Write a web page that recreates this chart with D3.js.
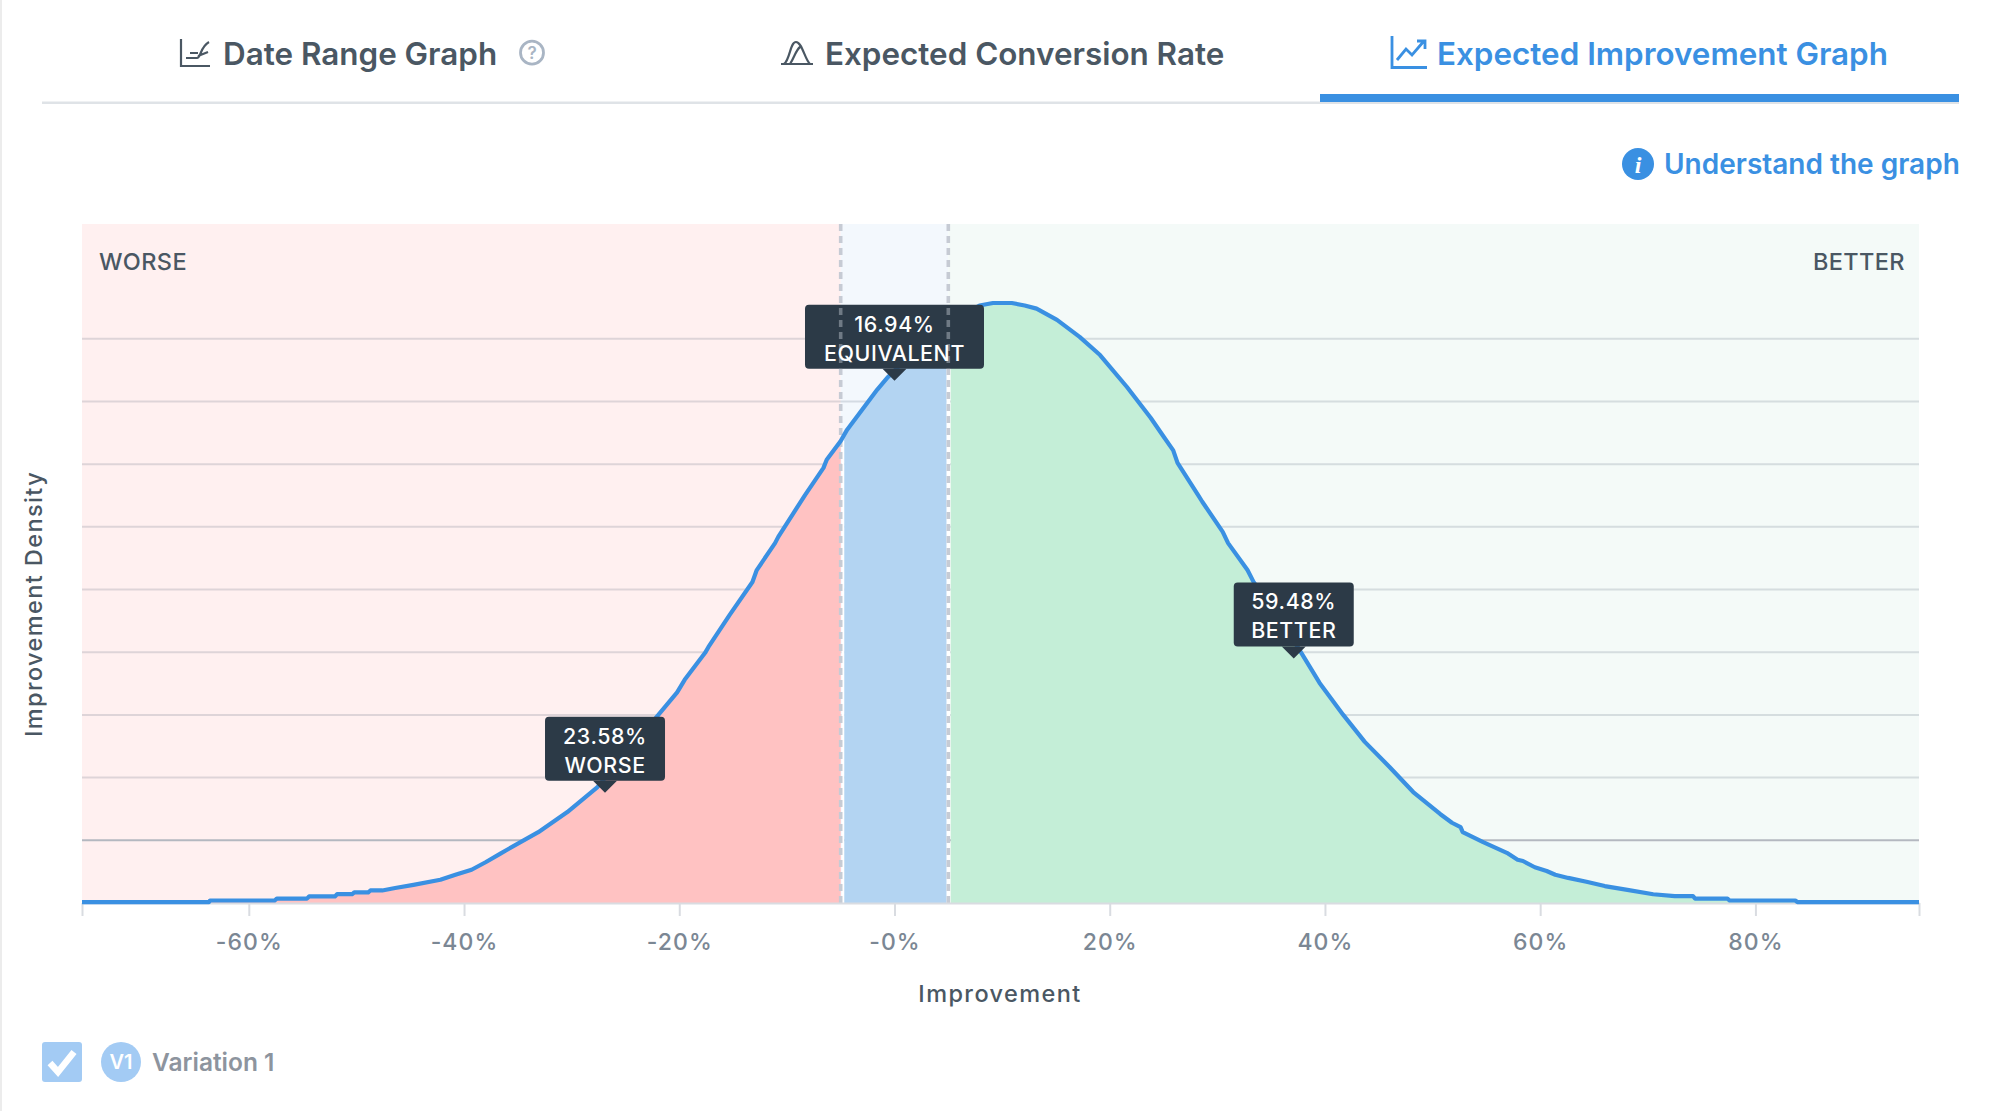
<!DOCTYPE html>
<html>
<head>
<meta charset="utf-8">
<title>Expected Improvement Graph</title>
<script src="https://cdn.jsdelivr.net/npm/d3@7/dist/d3.min.js"></script>
<style>
  html, body { margin: 0; padding: 0; background: #fff; }
  svg { display: block; font-family: Inter, "Noto Sans", sans-serif; }
  .tab { font-size: 31.4px; font-weight: 600; fill: #4a5763; }
  .tab.active { fill: #3a90e2; }
  .zone { font-size: 23.5px; font-weight: 500; fill: #4a5763; letter-spacing: .4px; }
  .axis text { font-size: 23px; font-weight: 500; fill: #7b8794; letter-spacing: 1.1px; font-family: Inter, sans-serif; }
  .axis line, .axis path { stroke: #d9dce1; stroke-width: 2; }
  .title { font-size: 23.5px; font-weight: 500; fill: #4a5763; letter-spacing: 1.4px; }
  .tip text { font-size: 21.4px; font-weight: 500; fill: #fff; text-anchor: middle; letter-spacing: .6px; }
</style>
</head>
<body>
<svg id="chart" width="1999" height="1111"></svg>
<script>
// improvement in %, density in gridline units
var improvement = [-75.5, -63.7, -63.6, -57.6, -57.4, -54.6, -54.4, -52.0, -51.8, -50.4, -50.2, -48.9, -48.7, -47.6,
  -46.4, -44.7, -42.2, -40.8, -39.3, -38.0, -36.7, -36.0, -33.1, -30.4, -27.6, -24.9, -22.1, -20.2, -19.5, -17.6,
  -17.3, -15.3, -13.2, -12.8, -11.1, -10.8, -8.6, -8.3, -6.6, -6.3, -5.0, -4.4, -1.6, -0.6, 1.0, 2.8, 5.0, 6.55,
  7.9, 9.15, 10.9, 12.1, 13.2, 15.1, 17.2, 19.1, 21.6, 23.8, 25.0, 25.9, 26.3, 28.2, 28.6, 30.5, 31.0, 32.8, 33.4,
  35.6, 37.9, 39.5, 41.7, 43.7, 46.0, 48.2, 50.7, 51.8, 52.6, 52.8, 54.7, 56.9, 57.9, 58.4, 59.5, 60.6, 61.4, 62.6,
  64.3, 66.0, 68.1, 70.5, 72.5, 74.2, 74.4, 77.4, 77.6, 83.7, 83.9, 95.2];
var density = [0.015, 0.015, 0.04, 0.04, 0.07, 0.07, 0.105, 0.105, 0.14, 0.14, 0.17, 0.17, 0.2, 0.2,
  0.24, 0.29, 0.37, 0.45, 0.53, 0.65, 0.78, 0.85, 1.13, 1.45, 1.85, 2.41, 2.97, 3.36, 3.56, 3.99,
  4.08, 4.6, 5.12, 5.31, 5.74, 5.84, 6.43, 6.51, 6.94, 7.07, 7.37, 7.55, 8.19, 8.39, 8.66, 8.98, 9.22, 9.4,
  9.53, 9.57, 9.57, 9.53, 9.48, 9.3, 9.03, 8.74, 8.23, 7.74, 7.44, 7.22, 7.02, 6.51, 6.4, 5.92, 5.74, 5.31, 5.11,
  4.6, 3.96, 3.51, 3.0, 2.57, 2.17, 1.77, 1.42, 1.28, 1.21, 1.13, 0.97, 0.8, 0.69, 0.67, 0.57, 0.51, 0.45, 0.4,
  0.34, 0.27, 0.21, 0.14, 0.11, 0.11, 0.07, 0.07, 0.04, 0.04, 0.015, 0.015];

var xTicks = [-60, -40, -20, 0, 20, 40, 60, 80];
var xTickLabels = ['-60%', '-40%', '-20%', '-0%', '20%', '40%', '60%', '80%'];
var gridLevels = [1, 2, 3, 4, 5, 6, 7, 8, 9];
var bandEdges = [-75.5, -5, 5, 95.2];
var bandBack = ['#fff0f0', '#f3f8fd', '#f4faf8'];
var bandFill = ['#ffc2c2', '#b3d4f2', '#c4eed7'];

var tipValues = ['23.58%', '16.94%', '59.48%'];
var tipLabels = ['WORSE', 'EQUIVALENT', 'BETTER'];
var tipX = [-26.9, 0, 37.1];
var tipY = [1.76, 8.33, 3.9];
var tipWidth = [120, 179, 120];

var points = improvement.map(function (d, i) { return [d, density[i]]; });

var svg = d3.select('#chart');
var x = d3.scaleLinear().domain([-75.5, 95.2]).range([82, 1919]);
var y = d3.scaleLinear().domain([0, 10.83]).range([903, 224]);

// page edge
svg.append('rect').attr('width', 2).attr('height', 1111).attr('fill', '#ececec');

// tabs
svg.append('rect').attr('x', 42).attr('y', 101.5).attr('width', 1917).attr('height', 2.5).attr('fill', '#dfe3e7');
svg.append('rect').attr('x', 1320).attr('y', 94).attr('width', 639).attr('height', 8).attr('fill', '#3a90e2');
svg.append('text').attr('class', 'tab').attr('x', 223).attr('y', 65).text('Date Range Graph');
svg.append('text').attr('class', 'tab').attr('x', 825).attr('y', 65).text('Expected Conversion Rate');
svg.append('text').attr('class', 'tab active').attr('x', 1437).attr('y', 65).text('Expected Improvement Graph');

var ico = svg.append('g').attr('fill', 'none').attr('stroke', '#4a5763').attr('stroke-width', 2.2);
ico.append('path').attr('d', 'M181 39V66H210M186 58H197C201 58 200 47 209 42M190 53H198M198 56L208 52');
ico.append('path').attr('d', 'M781 64H813M784 64C790 60 790 42 796 42C802 42 805 60 810 64M790 64C794 58 796 50 800 47');
svg.append('circle').attr('cx', 532).attr('cy', 52.7).attr('r', 11.5).attr('fill', 'none').attr('stroke', '#a9b5c4').attr('stroke-width', 2.8);
svg.append('text').attr('x', 532).attr('y', 59).attr('text-anchor', 'middle').attr('font-size', 17).attr('font-weight', 600).attr('fill', '#a9b5c4').text('?');
svg.append('path').attr('fill', 'none').attr('stroke', '#3a90e2').attr('stroke-width', 2.8)
  .attr('d', 'M1392 36V67.5H1427M1397 60L1406 49L1412 55L1424 41M1417 41H1425V49');

// understand link
svg.append('circle').attr('cx', 1638).attr('cy', 164).attr('r', 16).attr('fill', '#3a90e2');
svg.append('text').attr('x', 1638).attr('y', 173).attr('text-anchor', 'middle').attr('font-size', 24).attr('font-weight', 700)
  .attr('font-style', 'italic').attr('font-family', '"Liberation Serif", serif').attr('fill', '#fff').text('i');
svg.append('text').attr('x', 1664).attr('y', 174).attr('font-size', 28).attr('font-weight', 600).attr('fill', '#3a90e2').text('Understand the graph');

// background bands
bandBack.forEach(function (c, i) {
  svg.append('rect').attr('x', x(bandEdges[i])).attr('y', y(10.83))
    .attr('width', x(bandEdges[i + 1]) - x(bandEdges[i])).attr('height', y(0) - y(10.83)).attr('fill', c);
});

// gridlines, the lowest one reads darker
svg.append('g').selectAll('line').data(gridLevels).enter().append('line')
  .attr('x1', x.range()[0]).attr('x2', x.range()[1])
  .attr('y1', function (d) { return y(d); }).attr('y2', function (d) { return y(d); })
  .attr('stroke', function (d) { return d === 1 ? '#b4b8c0' : 'rgba(60,80,100,0.17)'; })
  .attr('stroke-width', 2);

// filled area, one clip per band with a small white gap at the dashed lines
var area = d3.area().x(function (d) { return x(d[0]); }).y0(y(0)).y1(function (d) { return y(d[1]); });
var defs = svg.append('defs');
bandFill.forEach(function (c, i) {
  var left = x(bandEdges[i]) + (i === 1 ? 3.5 : i === 2 ? 2.5 : 0);
  var right = x(bandEdges[i + 1]) - (i === 1 ? 1.5 : 0);
  defs.append('clipPath').attr('id', 'band' + i).append('rect')
    .attr('x', left).attr('y', y(10.83)).attr('width', right - left).attr('height', y(0) - y(10.83));
  svg.append('path').datum(points).attr('d', area).attr('fill', c).attr('clip-path', 'url(#band' + i + ')');
});

// white under the dashes inside the fill
var gapLines = svg.append('g');
[-5, 5].forEach(function (v) {
  gapLines.append('line').attr('x1', x(v) + (v < 0 ? 2.2 : 0)).attr('x2', x(v) + (v < 0 ? 2.2 : 0))
    .attr('y1', y(density[improvement.indexOf(v)])).attr('y2', y(0))
    .attr('stroke', '#fff').attr('stroke-width', v < 0 ? 2.5 : 3.5);
});

// dashed limits
function limits(g, colour) {
  g.selectAll('line').data([-5, 5]).enter().append('line')
    .attr('x1', function (d) { return x(d); }).attr('x2', function (d) { return x(d); })
    .attr('y1', y(10.83)).attr('y2', y(0))
    .attr('stroke', colour).attr('stroke-width', 3.6).attr('stroke-dasharray', '7 5');
}
limits(svg.append('g'), '#c6cbd4');

// axis
var axis = d3.axisBottom(x).tickValues(xTicks.concat(x.domain())).tickSize(13).tickSizeOuter(0)
  .tickFormat(function (d) { var i = xTicks.indexOf(d); return i < 0 ? '' : xTickLabels[i]; });
svg.append('g').attr('class', 'axis').attr('transform', 'translate(0,' + y(0) + ')').call(axis)
  .selectAll('text').attr('y', 31).attr('dy', '0.71em');

// curve
svg.append('path').datum(points).attr('fill', 'none').attr('stroke', '#3a90e2').attr('stroke-width', 4.2)
  .attr('stroke-linejoin', 'round')
  .attr('d', d3.line().x(function (d) { return x(d[0]); }).y(function (d) { return y(d[1]); }));

// corner labels and axis titles
svg.append('text').attr('class', 'zone').attr('x', 99).attr('y', 270).text('WORSE');
svg.append('text').attr('class', 'zone').attr('x', 1905).attr('y', 270).attr('text-anchor', 'end').text('BETTER');
svg.append('text').attr('class', 'title').attr('x', 1000).attr('y', 1002).attr('text-anchor', 'middle').text('Improvement');
svg.append('text').attr('class', 'title').attr('transform', 'translate(42,604) rotate(-90)')
  .attr('text-anchor', 'middle').text('Improvement Density');

// tooltips
tipValues.forEach(function (v, i) {
  var px = x(tipX[i]), py = y(tipY[i]), w = tipWidth[i];
  var g = svg.append('g').attr('class', 'tip');
  g.append('rect').attr('x', px - w / 2).attr('y', py - 76).attr('width', w).attr('height', 64)
    .attr('rx', 4).attr('fill', '#2c3a47');
  g.append('path').attr('d', 'M' + (px - 12) + ' ' + (py - 12) + 'L' + px + ' ' + py + 'L' + (px + 12) + ' ' + (py - 12) + 'Z').attr('fill', '#2c3a47');
  if (i === 1) {
    defs.append('clipPath').attr('id', 'tipclip').append('rect')
      .attr('x', px - w / 2).attr('y', py - 76).attr('width', w).attr('height', 64);
    var over = g.append('g').attr('clip-path', 'url(#tipclip)');
    limits(over, '#6f7a85');
  }
  g.append('text').attr('x', px).attr('y', py - 49).text(v);
  g.append('text').attr('x', px).attr('y', py - 20).text(tipLabels[i]);
});

// legend
svg.append('rect').attr('x', 42).attr('y', 1042).attr('width', 40).attr('height', 40).attr('rx', 3).attr('fill', '#a3cbf4');
svg.append('path').attr('d', 'M50 1063L58 1072L74 1052').attr('fill', 'none').attr('stroke', '#fff').attr('stroke-width', 6.5);
svg.append('circle').attr('cx', 121).attr('cy', 1062).attr('r', 20).attr('fill', '#a3cbf4');
svg.append('text').attr('x', 121).attr('y', 1069).attr('text-anchor', 'middle').attr('font-size', 20).attr('font-weight', 600).attr('fill', '#fff').text('V1');
svg.append('text').attr('x', 152).attr('y', 1071).attr('font-size', 24.5).attr('font-weight', 600).attr('fill', '#8d949e').text('Variation 1');
</script>
</body>
</html>
